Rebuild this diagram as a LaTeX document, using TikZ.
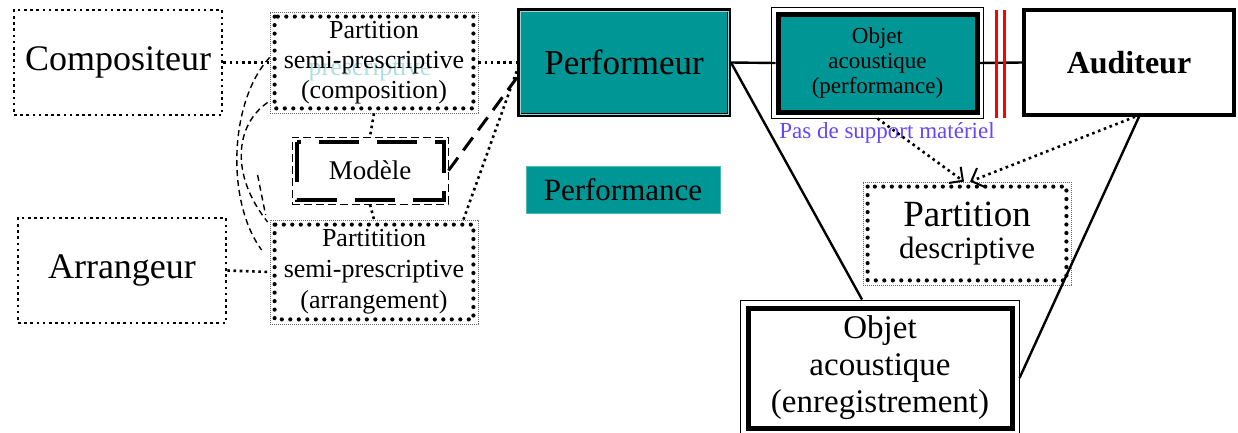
\documentclass[tikz,border=0pt]{standalone}
\usepackage{fontspec}
\setmainfont{Liberation Serif}
\usetikzlibrary{arrows.meta,calc}
\definecolor{sarcelle}{RGB}{0,150,150}
\definecolor{pasmat}{RGB}{100,70,255}
\definecolor{fantome}{RGB}{175,222,226}
\newcommand{\taille}[2]{\fontsize{#1pt}{#2pt}\selectfont}

\begin{document}
\begin{tikzpicture}[x=1pt,y=-1pt,
    cadre/.style 2 args={minimum width=#1,minimum height=#2,inner sep=0pt,align=center},
    pointille/.style={line width=2.6pt,dash pattern=on 2.6pt off 3.6pt},
    perles/.style={line width=4.2pt,line cap=round,dash pattern=on 0pt off 8.5pt},
    fin/.style={draw=black!60,line width=0.8pt,dash pattern=on 0.8pt off 1.2pt},
    tirets/.style={line width=1.4pt,dash pattern=on 6pt off 4pt},
    trait/.style={line width=2.4pt},
    fleche/.style={pointille,-{Straight Barb[length=10pt,width=20pt,line width=2pt]}}]
  \useasboundingbox (0,0) rectangle (1238,432);

  % acteurs
  \node[cadre={208pt}{105pt},draw,pointille,font=\taille{36}{40}] (comp) at (118,62.5) {Compositeur};
  \node[cadre={208pt}{105pt},draw,pointille,font=\taille{36}{40}] (arr) at (122,270.5) {Arrangeur};
  \node[cadre={210pt}{105pt},draw,line width=4pt,fill=sarcelle,font=\taille{35}{40}] (perf) at (624,62.5) {Performeur};
  \node[cadre={194pt}{47pt},draw=sarcelle!70,line width=0.6pt,fill=sarcelle,font=\taille{31}{36}] (perfo) at (623,189.5) {Performance};
  \node[cadre={210pt}{105pt},draw,line width=3.5pt,fill=white,font=\bfseries\taille{32}{38}] (aud) at (1129,62.5) {Auditeur};

  % partitions
  \node[font=\taille{26}{30},text=fantome] (fant) at (370,70) {prescriptive};
  \node[cadre={208pt}{101pt},fin,font=\taille{26}{30}] (pcomp) at (374,62.5) {Partition\\semi-prescriptive\\(composition)};
  \node[cadre={208pt}{104pt},fin,font=\taille{26}{31}] (parr) at (374,272) {Partitition\\semi-prescriptive\\(arrangement)};
  \node[cadre={208pt}{103pt},fin,font=\taille{31}{32}] (pdesc) at (967,233.5) {{\fontsize{37pt}{32pt}\selectfont Partition}\\descriptive};
  \foreach \n in {pcomp,parr,pdesc}
    \draw[perles] ([shift={(5,5)}]\n.north west) rectangle ([shift={(-5,-5)}]\n.south east);

  \node[cadre={156pt}{67pt},draw,line width=1pt,dash pattern=on 8pt off 4pt,font=\taille{27}{30}] (mod) at (370,170.5) {Modèle};
  \draw[line width=4pt,dash pattern=on 40pt off 18pt] ([shift={(5,5)}]mod.north west) rectangle ([shift={(-5,-5)}]mod.south east);

  % objets acoustiques
  \node[cadre={199pt}{98pt},draw,line width=5pt,fill=sarcelle,font=\taille{23}{25}] (objp) at (877.5,63) {Objet\\acoustique\\(performance)};
  \node[cadre={264pt}{120pt},draw,line width=5pt,fill=white,font=\taille{33}{37}] (obje) at (880,368) {Objet\\acoustique\\(enregistrement)};
  \foreach \n/\e in {objp/4,obje/5}
    \draw[line width=1.2pt] ([shift={(-\e,-\e)}]\n.north west) rectangle ([shift={(\e,\e)}]\n.south east);
  \draw[sarcelle!40,line width=0.8pt] ([shift={(3,3)}]perf.north west) rectangle ([shift={(-3,-3)}]perf.south east);

  \node[text=pasmat,font=\taille{23}{26}] (pasm) at (887,133) {Pas de support matériel};

  % liens
  \draw[pointille] (comp.east) -- (pcomp.west);
  \draw[pointille] (pcomp.east) -- (perf.west);
  \draw[pointille] (arr.east) -- (parr.west);
  \draw[pointille] (pcomp.south) -- (mod.north);
  \draw[pointille] (mod.south) -- (parr.north);
  \draw[pointille] ([xshift=-15pt]parr.north east) -- ([yshift=-8pt]perf.west);
  \draw[line width=3pt,dash pattern=on 16pt off 9pt] (mod.east) -- ([yshift=-15pt]perf.west);
  \draw[tirets] ([yshift=5pt]pcomp.west) .. controls (230,100) and (225,200) .. ([shift={(-8,-22)}]parr.west);
  \draw[tirets] ([shift={(-2,40)}]pcomp.west) .. controls (235,125) and (230,175) .. ([shift={(-2,-50)}]parr.west);
  \draw[tirets] ([shift={(-12,-97)}]parr.west) -- ([shift={(-4,-57)}]parr.west);

  \draw[trait] (perf.east) -- (objp.west);
  \draw[trait] (objp.east) -- (aud.west);
  \draw[red,line width=3pt] (996,10) -- (996,118) (1004,10) -- (1004,118);
  \draw[trait] (perf.east) -- ([shift={(-18,-6)}]obje.north);
  \draw[trait] ([xshift=10pt]aud.south) -- ([shift={(5,10)}]obje.east);

  \draw[fleche] ([yshift=-4pt]objp.south) -- ([xshift=-3pt]pdesc.north);
  \draw[fleche] ([xshift=6pt]aud.south) -- ([xshift=3pt]pdesc.north);
\end{tikzpicture}
\end{document}
